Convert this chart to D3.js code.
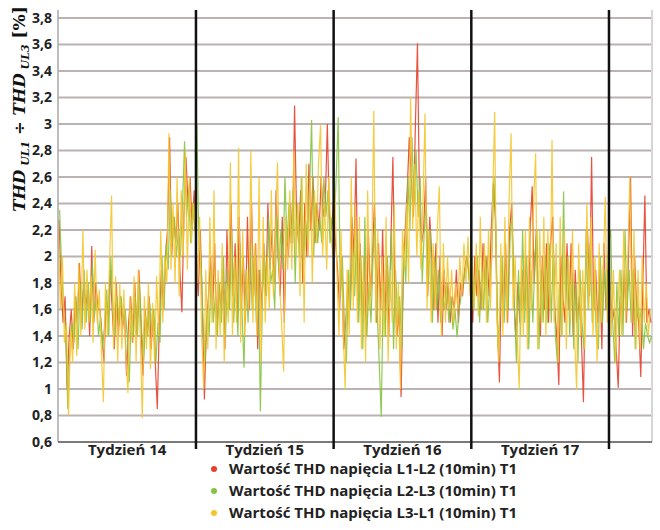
<!DOCTYPE html>
<html>
<head>
<meta charset="utf-8">
<script src="https://cdn.jsdelivr.net/npm/d3@7/dist/d3.min.js"></script>
<style>
    body { margin: 0; background: #fff; }
    svg { display: block; }
</style>
</head>
<body>
<div id="chart"></div>
<script>
// week labels, tick values, legend names
var weekLabels = ["Tydzień 14", "Tydzień 15", "Tydzień 16", "Tydzień 17"];
var weekStarts = [0, 168, 336, 504, 672];          // hours from start of week 14
var yTicks = [0.6, 0.8, 1, 1.2, 1.4, 1.6, 1.8, 2, 2.2, 2.4, 2.6, 2.8, 3, 3.2, 3.4, 3.6, 3.8];
var seriesNames = [
    "Wartość THD napięcia L1-L2 (10min) T1",
    "Wartość THD napięcia L2-L3 (10min) T1",
    "Wartość THD napięcia L3-L1 (10min) T1"
];

// one value every 2.5 hours (week 14 .. part of week 18)
var stepHours = 2.5;
var red = [
    2.28, 1.80, 1.50, 1.70, 1.00, 1.40, 1.60, 1.30, 1.70, 1.50,
    1.95, 1.50, 1.80, 1.60, 1.75, 1.40, 2.08, 1.50, 1.80, 1.60,
    1.60, 1.40, 1.20, 1.70, 1.50, 1.90, 1.60, 1.30, 1.80, 1.40,
    1.70, 1.45, 1.60, 1.10, 1.50, 1.70, 1.35, 1.80, 1.40, 1.90,
    1.50, 1.10, 1.60, 1.40, 1.70, 1.30, 1.60, 1.20, 0.85, 1.50,
    1.90, 1.60, 2.00, 2.20, 2.90, 2.00, 2.30, 2.10, 2.40, 1.90,
    1.58, 2.30, 2.75, 2.40, 2.60, 2.20, 2.50, 2.00, 1.70, 2.20,
    1.60, 0.92, 1.50, 1.70, 2.00, 1.60, 2.10, 1.40, 1.80, 1.60,
    1.90, 1.30, 2.20, 1.60, 2.40, 1.70, 2.10, 1.50, 2.30, 1.60,
    2.00, 1.50, 2.30, 1.60, 2.40, 1.70, 2.10, 1.30, 1.90, 1.60,
    2.10, 1.70, 2.40, 1.90, 2.20, 1.80, 2.50, 2.00, 1.70, 2.30,
    1.50, 2.20, 2.00, 2.40, 2.10, 3.14, 2.30, 2.10, 2.50, 1.80,
    2.40, 2.00, 2.70, 2.20, 2.60, 2.10, 2.40, 2.20, 2.60, 2.30,
    2.40, 3.00, 2.30, 2.20, 2.40, 2.10, 1.90, 1.60, 2.00, 1.30,
    1.50, 1.80, 1.60, 2.30, 2.00, 2.74, 1.60, 2.10, 1.50, 2.00,
    1.40, 2.20, 1.70, 2.00, 2.40, 1.50, 2.10, 1.60, 2.20, 1.50,
    2.00, 1.40, 2.10, 2.75, 1.70, 1.40, 1.60, 0.94, 1.80, 2.20,
    2.50, 2.90, 2.60, 2.30, 3.00, 3.61, 2.40, 2.10, 2.20, 2.60,
    1.70, 2.30, 2.00, 1.60, 2.10, 1.50, 2.00, 1.40, 1.90, 1.60,
    1.80, 1.50, 1.70, 1.60, 1.90, 1.50, 1.80, 1.70, 1.90, 2.00,
    1.90, 1.70, 1.50, 2.00, 1.70, 1.90, 1.60, 2.10, 1.80, 2.00,
    1.70, 2.20, 2.55, 2.30, 1.50, 1.05, 1.90, 1.60, 2.10, 1.50,
    2.20, 2.40, 1.70, 1.40, 1.80, 1.50, 1.90, 1.60, 2.00, 1.50,
    2.20, 2.53, 1.80, 2.20, 1.60, 1.40, 2.00, 1.60, 2.10, 1.50,
    2.10, 2.30, 1.60, 1.40, 1.03, 2.00, 1.70, 1.50, 2.10, 1.60,
    2.10, 1.40, 1.90, 1.50, 1.70, 1.40, 0.90, 1.80, 2.20, 1.70,
    2.75, 1.60, 1.90, 1.50, 1.90, 1.30, 2.10, 1.60, 1.90, 1.80,
    1.50, 1.60, 1.30, 1.01, 1.70, 1.50, 1.90, 1.50, 2.00, 2.60,
    1.40, 2.00, 1.60, 1.50, 1.09, 1.80, 2.46, 1.50, 1.60, 1.50
];
var green = [
    2.35, 1.90, 1.60, 1.40, 0.85, 1.30, 1.50, 1.35, 1.70, 1.30,
    1.80, 1.45, 1.90, 1.50, 1.80, 1.50, 1.95, 1.55, 1.70, 1.40,
    1.55, 1.30, 1.50, 1.75, 1.40, 2.00, 1.60, 1.40, 1.70, 1.50,
    1.70, 1.50, 1.60, 1.40, 1.05, 1.60, 1.40, 1.70, 1.40, 1.80,
    1.45, 1.20, 1.55, 1.40, 1.65, 1.45, 1.60, 1.20, 1.50, 1.35,
    2.00, 1.60, 2.10, 1.90, 2.50, 2.10, 2.30, 2.00, 2.20, 2.00,
    2.40, 2.87, 2.30, 2.50, 2.10, 2.40, 2.20, 3.00, 2.10, 2.00,
    1.50, 1.20, 1.60, 1.40, 1.90, 1.50, 1.70, 1.40, 1.80, 1.50,
    2.00, 1.40, 1.90, 1.60, 2.20, 1.50, 1.90, 1.40, 2.10, 1.60,
    1.16, 1.90, 1.50, 2.10, 1.60, 2.00, 1.50, 1.90, 0.83, 1.70,
    2.00, 1.70, 2.30, 1.80, 1.90, 1.60, 2.30, 1.90, 2.20, 1.90,
    2.60, 2.10, 2.40, 2.10, 2.50, 1.80, 2.40, 2.00, 2.60, 1.90,
    2.30, 2.10, 2.50, 3.03, 2.00, 2.40, 2.10, 2.30, 2.10, 2.60,
    2.30, 2.50, 2.10, 2.30, 2.20, 2.60, 3.05, 1.70, 2.00, 1.50,
    1.20, 1.90, 1.60, 2.10, 1.70, 2.20, 1.50, 2.00, 1.30, 2.30,
    1.40, 1.80, 1.50, 2.00, 2.30, 1.60, 1.20, 0.79, 1.80, 1.40,
    2.00, 1.60, 2.20, 1.30, 1.90, 1.50, 1.70, 1.30, 2.10, 1.80,
    2.60, 2.20, 2.90, 2.40, 2.80, 2.30, 2.60, 1.80, 2.20, 2.40,
    1.80, 2.20, 1.50, 2.00, 1.60, 1.90, 1.50, 1.70, 1.60, 1.80,
    1.50, 1.70, 1.45, 1.60, 1.39, 1.60, 1.70, 1.80, 1.90, 2.00,
    1.80, 1.90, 1.60, 1.80, 2.00, 1.50, 1.90, 1.60, 2.00, 1.50,
    1.80, 2.00, 2.60, 2.20, 1.30, 1.60, 2.00, 1.50, 1.90, 1.60,
    2.20, 2.30, 1.60, 1.20, 1.90, 1.40, 2.20, 1.50, 2.00, 1.30,
    1.90, 1.50, 2.00, 2.20, 1.30, 1.90, 1.50, 2.00, 1.50, 2.10,
    1.50, 2.10, 1.40, 1.20, 1.80, 1.40, 2.49, 1.60, 2.00, 1.40,
    1.90, 1.30, 1.80, 1.20, 1.90, 1.50, 1.30, 2.20, 1.60, 2.10,
    1.50, 1.80, 1.40, 1.30, 2.00, 1.50, 1.90, 1.60, 2.10, 2.20,
    1.50, 1.20, 1.80, 1.40, 1.90, 1.40, 2.20, 1.60, 1.90, 1.50,
    1.90, 1.30, 1.70, 1.50, 1.60, 1.30, 1.50, 1.40, 1.35, 1.40
];
var yellow = [
    2.25, 1.60, 2.00, 1.35, 1.50, 0.80, 1.45, 1.20, 1.80, 1.25,
    1.95, 1.40, 2.20, 1.45, 1.90, 1.50, 1.85, 1.35, 2.05, 1.50,
    1.75, 1.30, 0.90, 1.80, 1.40, 1.95, 2.46, 1.30, 1.85, 1.20,
    1.80, 1.30, 1.75, 1.25, 0.97, 1.70, 1.35, 1.85, 1.20, 1.90,
    1.40, 0.78, 1.70, 1.30, 1.80, 1.15, 1.65, 1.20, 1.85, 1.40,
    2.20, 1.50, 2.00, 1.80, 2.93, 1.90, 2.40, 1.80, 2.60, 1.70,
    2.50, 2.00, 2.80, 1.90, 2.60, 2.10, 2.40, 2.20, 1.80, 2.30,
    1.40, 1.00, 1.90, 1.30, 2.30, 1.50, 2.50, 1.30, 1.90, 1.40,
    2.10, 1.20, 1.80, 1.50, 2.71, 1.40, 2.00, 1.50, 2.82, 1.35,
    2.20, 1.40, 1.90, 1.60, 2.80, 1.50, 2.10, 1.40, 2.60, 1.20,
    2.30, 1.50, 2.00, 1.60, 2.50, 1.70, 2.20, 2.71, 1.80, 1.50,
    1.13, 2.30, 1.90, 2.50, 1.90, 2.80, 2.00, 2.40, 1.70, 2.60,
    1.50, 2.70, 2.00, 2.60, 1.80, 2.50, 2.10, 2.70, 2.99, 2.00,
    2.40, 1.90, 2.60, 2.20, 2.00, 2.50, 1.90, 1.40, 2.20, 1.50,
    1.00, 1.90, 1.40, 2.60, 1.60, 2.40, 1.50, 2.30, 1.30, 2.00,
    1.20, 2.50, 1.60, 2.00, 3.10, 1.50, 2.20, 1.30, 2.00, 1.40,
    2.30, 1.20, 1.90, 1.50, 2.40, 1.30, 1.80, 1.00, 2.20, 1.90,
    2.40, 1.80, 3.20, 2.20, 2.70, 2.00, 2.50, 1.90, 2.40, 3.08,
    1.60, 2.20, 1.50, 2.10, 1.60, 2.20, 2.53, 1.40, 2.10, 1.50,
    2.00, 1.60, 1.90, 1.50, 1.80, 1.60, 2.00, 1.70, 2.10, 1.80,
    2.15, 1.70, 2.00, 1.60, 2.10, 1.55, 2.30, 1.60, 2.10, 1.50,
    2.20, 1.60, 2.40, 3.09, 1.60, 1.20, 2.10, 1.40, 2.30, 1.50,
    2.40, 2.93, 1.60, 2.00, 1.40, 1.00, 2.00, 1.40, 2.20, 1.30,
    2.30, 1.60, 2.40, 2.78, 1.30, 2.20, 1.50, 2.30, 1.40, 2.20,
    1.60, 2.88, 1.50, 2.10, 1.20, 2.30, 1.40, 2.20, 1.30, 2.00,
    1.50, 2.20, 1.40, 0.99, 2.10, 1.40, 1.90, 1.30, 2.40, 1.60,
    2.30, 1.40, 2.00, 1.20, 2.10, 1.50, 1.90, 2.45, 1.50, 2.00,
    1.40, 1.90, 1.20, 1.60, 1.90, 1.40, 2.20, 1.50, 2.00, 2.60,
    1.50, 2.20, 1.30, 1.90, 1.30, 2.00, 1.50, 1.80, 1.40, 1.60
];
var seriesColors = ["#e6402c", "#86c340", "#f4c62c"];
var seriesOffsets = [0.8, 1.6, 0];   // hours, the three phases were sampled a little apart

var width = 660, height = 530;
var plotLeft = 58, plotRight = 652, plotTop = 10, plotBottom = 442;

var svg = d3.select("#chart").append("svg")
    .attr("width", width)
    .attr("height", height);

var x = d3.scaleLinear().domain([0, 724.5]).range([58.3, plotRight]);
var y = d3.scaleLinear().domain([0.6, 3.8]).range([plotBottom, 18]);

var labelFont = "'Open Sans', Lato, sans-serif";

// horizontal grid
svg.append("g").selectAll("line")
    .data(yTicks.slice(1))
    .enter().append("line")
    .attr("x1", plotLeft).attr("x2", plotRight)
    .attr("y1", function (d) { return y(d); })
    .attr("y2", function (d) { return y(d); })
    .attr("stroke", "#bcb2b2")
    .attr("stroke-width", 2);

// right border
svg.append("line")
    .attr("x1", plotRight).attr("x2", plotRight)
    .attr("y1", plotTop).attr("y2", plotBottom)
    .attr("stroke", "#d6d6d6").attr("stroke-width", 2);

// y axis labels
svg.append("g").selectAll("text")
    .data(yTicks)
    .enter().append("text")
    .attr("x", 52)
    .attr("y", function (d) { return y(d); })
    .attr("dy", "0.35em")
    .attr("text-anchor", "end")
    .attr("font-family", labelFont)
    .attr("font-weight", "bold")
    .attr("font-size", "14px")
    .attr("fill", "#222")
    .text(function (d) { return d3.format("~g")(d).replace(".", ","); });

// series lines
svg.append("clipPath").attr("id", "plot-clip")
    .append("rect")
    .attr("x", plotLeft).attr("y", plotTop)
    .attr("width", plotRight - plotLeft).attr("height", plotBottom - plotTop);

var seriesData = [red, green, yellow];
var line = d3.line()
    .x(function (d) { return x(d.t); })
    .y(function (d) { return y(d.v); });

seriesData.forEach(function (values, k) {
    var points = values.map(function (v, i) {
        return { t: i * stepHours + seriesOffsets[k], v: v };
    });
    svg.append("path")
        .datum(points)
        .attr("clip-path", "url(#plot-clip)")
        .attr("fill", "none")
        .attr("stroke", seriesColors[k])
        .attr("stroke-width", 1.2)
        .attr("stroke-opacity", 0.9)
        .attr("d", line);
});

// axes
svg.append("line")
    .attr("x1", plotLeft).attr("x2", plotLeft)
    .attr("y1", plotTop).attr("y2", plotBottom)
    .attr("stroke", "#a8a8a8").attr("stroke-width", 1.5);
svg.append("line")
    .attr("x1", plotLeft).attr("x2", plotRight)
    .attr("y1", plotBottom).attr("y2", plotBottom)
    .attr("stroke", "#7a7a7a").attr("stroke-width", 2);

// week dividers, with ticks below the axis
svg.append("g").selectAll("line")
    .data(weekStarts.slice(1))
    .enter().append("line")
    .attr("x1", function (d) { return x(d); })
    .attr("x2", function (d) { return x(d); })
    .attr("y1", plotTop).attr("y2", plotBottom + 7)
    .attr("stroke", "#111")
    .attr("stroke-width", 2.5);

svg.append("g").selectAll("text")
    .data(weekLabels)
    .enter().append("text")
    .attr("x", function (d, i) { return x(weekStarts[i] + 84); })
    .attr("y", 455)
    .attr("text-anchor", "middle")
    .attr("font-family", labelFont)
    .attr("font-weight", "bold")
    .attr("font-size", "15px")
    .attr("fill", "#222")
    .text(function (d) { return d; });

// y title
var title = svg.append("text")
    .attr("transform", "translate(25,109) rotate(-90)")
    .attr("text-anchor", "middle")
    .attr("font-family", "'DejaVu Serif', 'Liberation Serif', serif")
    .attr("font-weight", "bold")
    .attr("font-size", "16.5px")
    .attr("fill", "#111");
title.append("tspan").attr("font-style", "italic").text("THD");
title.append("tspan").attr("font-style", "italic").attr("font-size", "11px").attr("dy", 4).text(" UL1");
title.append("tspan").attr("dy", -4).text(" ÷ ");
title.append("tspan").attr("font-style", "italic").text("THD");
title.append("tspan").attr("font-style", "italic").attr("font-size", "11px").attr("dy", 4).text(" UL3");
title.append("tspan").attr("dy", -4).attr("font-size", "17px").text(" [%]");

// legend
var legend = svg.append("g").selectAll("g")
    .data(seriesNames)
    .enter().append("g")
    .attr("transform", function (d, i) { return "translate(214," + (469 + i * 22) + ")"; });
legend.append("circle")
    .attr("r", 3)
    .attr("fill", function (d, i) { return seriesColors[i]; });
legend.append("text")
    .attr("x", 15)
    .attr("dy", "0.35em")
    .attr("font-family", labelFont)
    .attr("font-weight", "bold")
    .attr("font-size", "15px")
    .attr("fill", "#222")
    .text(function (d) { return d; });
</script>
</body>
</html>
